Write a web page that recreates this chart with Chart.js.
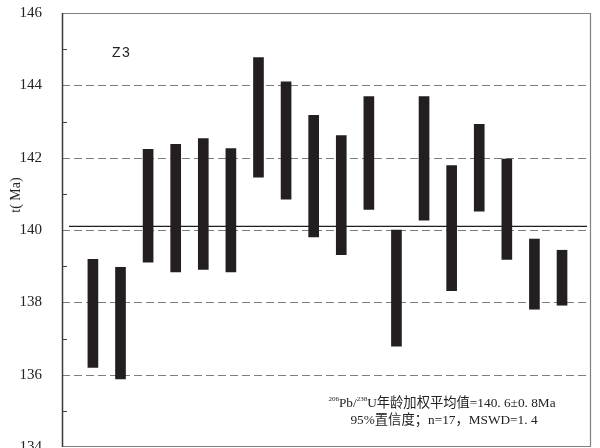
<!DOCTYPE html>
<html>
<head>
<meta charset="utf-8">
<script src="https://cdn.jsdelivr.net/npm/chart.js@4.4.1/dist/chart.umd.min.js"></script>
<style>
  html, body { margin: 0; padding: 0; background: #ffffff; }
  #wrap { width: 600px; height: 448px; }
</style>
</head>
<body>
<div id="wrap"><canvas id="chart" width="600" height="448"></canvas></div>
<script>
// Zircon spot numbers and their 206Pb/238U age ranges (Ma)
const spots = [1, 2, 3, 4, 5, 6, 7, 8, 9, 10, 11, 12, 13, 14, 15, 16, 17, 18];
const ageLow  = [136.20, 135.88, 139.11, 138.84, 138.91, 138.84, 141.46, 140.85, 139.81,
                 139.32, 140.57, 136.79, 140.27, 138.32, 140.52, 139.19, 137.81, 137.92];
const ageHigh = [139.19, 138.97, 142.23, 142.37, 142.53, 142.25, 144.77, 144.10, 143.17,
                 142.61, 143.69, 140.00, 143.69, 141.78, 142.92, 141.96, 139.75, 139.44];

// Axis ticks
const yTicks = [134, 136, 138, 140, 142, 144, 146];
const yMinorTicks = [135, 137, 139, 141, 143, 145];
const dashedLevels = [136, 138, 140, 142, 144];

// Reference line across the plot
const meanLine = 140.1;

// Texts
const panelLabel = 'Z3';
const axisTitle = 't( Ma)';
const noteLine1 = [
  { text: '206', sup: true },
  { text: 'Pb/' },
  { text: '238', sup: true },
  { text: 'U年龄加权平均值=140. 6±0. 8Ma' }
];
const noteLine2 = [{ text: '95%置信度；n=17，MSWD=1. 4' }];

const SERIF = '"Liberation Serif", "Noto Sans CJK SC", serif';
const SANS = '"Liberation Sans", Arial, sans-serif';

function drawRuns(ctx, runs, cx, cy, size) {
  const supSize = Math.round(size * 0.55);
  let total = 0;
  runs.forEach(r => {
    ctx.font = (r.sup ? supSize : size) + 'px ' + SERIF;
    r.w = ctx.measureText(r.text).width;
    total += r.w;
  });
  let x = cx - total / 2;
  ctx.textAlign = 'left';
  ctx.textBaseline = 'middle';
  runs.forEach(r => {
    ctx.font = (r.sup ? supSize : size) + 'px ' + SERIF;
    ctx.fillText(r.text, x, r.sup ? cy - size * 0.35 : cy);
    x += r.w;
  });
}

const decorPlugin = {
  id: 'decor',
  beforeDatasetsDraw(chart) {
    const { ctx, chartArea: a, scales: { y } } = chart;
    ctx.save();
    // dashed horizontal levels
    ctx.strokeStyle = '#7d7d7d';
    ctx.lineWidth = 1;
    ctx.setLineDash([8, 4]);
    dashedLevels.forEach(v => {
      const py = Math.round(y.getPixelForValue(v)) + 0.5;
      ctx.beginPath();
      ctx.moveTo(a.left, py);
      ctx.lineTo(a.right, py);
      ctx.stroke();
    });
    ctx.setLineDash([]);
    // solid reference line
    ctx.strokeStyle = '#1e1e1e';
    ctx.lineWidth = 1.3;
    const my = y.getPixelForValue(meanLine);
    ctx.beginPath();
    ctx.moveTo(a.left + 7, my);
    ctx.lineTo(a.right - 4, my);
    ctx.stroke();
    ctx.restore();
  },
  afterDatasetsDraw(chart) {
    const { ctx, chartArea: a, scales: { y } } = chart;
    ctx.save();
    // frame
    ctx.strokeStyle = '#808080';
    ctx.lineWidth = 1.2;
    ctx.beginPath();
    ctx.moveTo(a.left, a.top + 0.5);
    ctx.lineTo(a.right - 0.5, a.top + 0.5);
    ctx.lineTo(a.right - 0.5, a.bottom - 0.5);
    ctx.lineTo(a.left, a.bottom - 0.5);
    ctx.stroke();
    ctx.strokeStyle = '#3a3a3a';
    ctx.lineWidth = 1.5;
    ctx.beginPath();
    ctx.moveTo(a.left + 0.5, a.top);
    ctx.lineTo(a.left + 0.5, a.bottom);
    ctx.stroke();
    // minor ticks on the left axis
    ctx.lineWidth = 1;
    ctx.strokeStyle = '#444444';
    yMinorTicks.forEach(v => {
      const py = Math.round(y.getPixelForValue(v)) + 0.5;
      ctx.beginPath();
      ctx.moveTo(a.left, py);
      ctx.lineTo(a.left + 5, py);
      ctx.stroke();
    });
    // panel label
    ctx.fillStyle = '#222222';
    ctx.font = '14px ' + SANS;
    ctx.textAlign = 'left';
    ctx.textBaseline = 'middle';
    ctx.letterSpacing = '1.5px';
    ctx.fillText(panelLabel, a.left + 50, a.top + 40);
    ctx.letterSpacing = '0px';
    // axis title
    ctx.font = '14px ' + SERIF;
    ctx.translate(16, a.top + 182);
    ctx.rotate(-Math.PI / 2);
    ctx.textAlign = 'center';
    ctx.fillText(axisTitle, 0, 0);
    ctx.setTransform(1, 0, 0, 1, 0, 0);
    // note
    const cx = a.right - 149;
    drawRuns(ctx, noteLine1, cx, a.bottom - 43, 13.3);
    drawRuns(ctx, noteLine2, cx + 2, a.bottom - 26, 13.3);
    ctx.restore();
  }
};

new Chart(document.getElementById('chart'), {
  type: 'bar',
  data: {
    datasets: [{
      data: spots.map((s, i) => ({ x: s, y: [ageLow[i], ageHigh[i]] })),
      backgroundColor: '#231f20',
      borderWidth: 0,
      barThickness: 10
    }]
  },
  options: {
    responsive: false,
    animation: false,
    devicePixelRatio: 1,
    layout: { padding: { top: 13, right: 9, bottom: 1, left: 0 } },
    plugins: { legend: { display: false }, tooltip: { enabled: false } },
    scales: {
      x: {
        type: 'linear',
        min: -0.12,
        max: 19.05,
        offset: false,
        display: false
      },
      y: {
        min: 134,
        max: 146,
        afterBuildTicks: s => { s.ticks = yTicks.map(v => ({ value: v })); },
        ticks: {
          padding: 12,
          color: '#222222',
          font: { family: SERIF, size: 15 }
        },
        grid: { display: false },
        border: { display: false },
        afterFit: s => { s.width = 62; s.paddingTop = 0; s.paddingBottom = 0; }
      }
    }
  },
  plugins: [decorPlugin]
});
</script>
</body>
</html>
